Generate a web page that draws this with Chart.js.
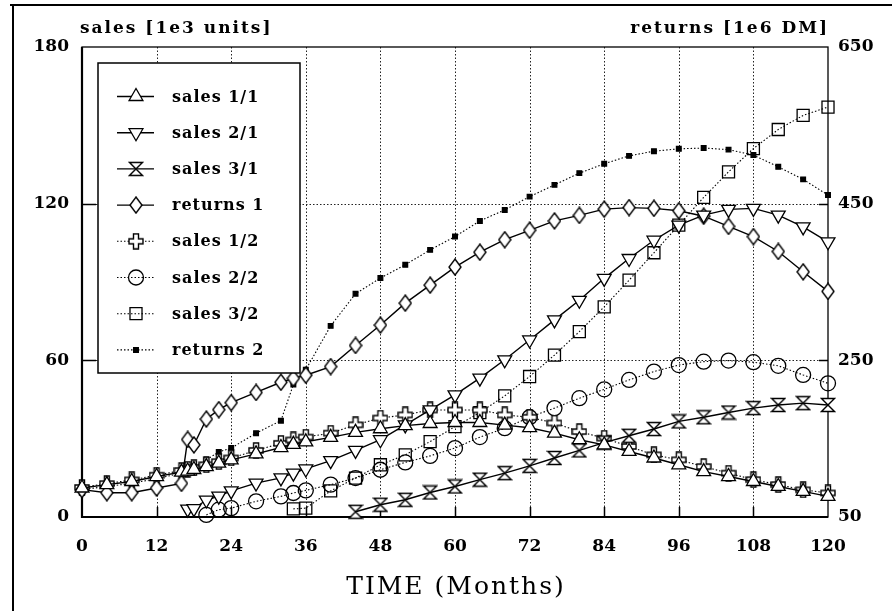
<!DOCTYPE html>
<html>
<head>
<meta charset="utf-8">
<title>sales / returns over time</title>
<script src="https://cdn.jsdelivr.net/npm/chart.js@4.4.1/dist/chart.umd.min.js"></script>
<style>
  html, body { margin: 0; padding: 0; background: #fff; }
  #wrap { width: 892px; height: 611px; }
</style>
</head>
<body>
<div id="wrap"><canvas id="chart" width="892" height="611"></canvas></div>
<script>
// months at which the series were sampled (null = product not yet on the market)
const months = [0, 4, 8, 12, 16, 17, 18, 20, 22, 24, 28, 32, 34, 36, 40, 44, 48, 52, 56, 60,
  64, 68, 72, 76, 80, 84, 88, 92, 96, 100, 104, 108, 112, 116, 120];

// sales [1e3 units], left axis
const sales11 = [11.1, 12.4, 13.6, 15.5, 17.2, 17.6, 18.2, 19.3, 20.6, 21.9, 24.2, 26.6, 27.8, 28.8, 30.5, 32.4, 33.8, 35.0, 35.8, 36.2,
  36.2, 35.2, 34.2, 32.1, 29.6, 27.6, 25.1, 22.6, 20.0, 17.4, 15.5, 13.6, 11.7, 9.8, 7.9];
const sales21 = [null, null, null, null, null, 3.0, 3.2, 6.5, 8.0, 10.0, 13.0, 15.0, 16.8, 18.4, 21.6, 25.5, 29.6, 35.3, 41.0, 46.8,
  53.2, 60.2, 67.8, 75.5, 83.0, 91.4, 99.0, 106.0, 111.8, 115.6, 117.8, 118.2, 115.6, 111.1, 105.4];
const sales31 = [null, null, null, null, null, null, null, null, null, null, null, null, null, null, null, 2.0, 4.7, 6.6, 9.4, 11.7,
  14.3, 16.8, 19.6, 22.6, 25.5, 28.5, 31.1, 33.7, 36.6, 38.2, 40.0, 41.7, 42.9, 43.6, 42.9];
const sales12 = [11.3, 12.8, 14.2, 16.0, 17.8, 18.3, 18.8, 20.0, 21.2, 22.6, 25.5, 28.2, 29.5, 30.6, 32.1, 35.3, 37.9, 39.1, 41.0, 41.0,
  41.0, 39.1, 38.2, 36.0, 32.7, 30.2, 27.0, 23.8, 21.9, 19.3, 16.8, 14.3, 12.4, 10.4, 9.2];
const sales22 = [null, null, null, null, null, null, null, 0.8, 2.8, 3.4, 6.0, 7.9, 9.2, 10.2, 12.4, 14.9, 18.1, 20.9, 23.4, 26.4,
  30.6, 34.0, 38.2, 41.7, 45.5, 48.9, 52.5, 55.7, 58.2, 59.5, 59.9, 59.3, 57.9, 54.4, 51.2];
const sales32 = [null, null, null, null, null, null, null, null, null, null, null, null, 3.1, 3.4, 10.0, 14.9, 20.0, 23.8, 28.9, 34.6,
  40.0, 46.4, 53.8, 62.0, 71.0, 80.5, 90.7, 101.2, 111.8, 122.4, 132.2, 141.1, 148.4, 153.8, 157.0];

// returns [1e6 DM], right axis
const returns1 = [85, 81, 81, 87, 93, 149, 142, 175, 187, 196, 209, 222, 227, 231, 242, 269, 295, 323, 346, 369,
  388, 404, 416, 428, 435, 443, 445, 444, 441, 434, 421, 408, 389, 363, 338];
const returns2 = [85, 89, 93, 99, 106, 110, 114, 123, 133, 138, 157, 173, 219, 238, 294, 335, 355, 372, 391, 408,
  428, 442, 459, 474, 489, 501, 511, 517, 520, 521, 519, 512, 497, 481, 461];

// axis ticks
const monthTicks = [0, 12, 24, 36, 48, 60, 72, 84, 96, 108, 120];
const salesTicks = [0, 60, 120, 180];
const returnTicks = [50, 250, 450, 650];

const SERIF = '"DejaVu Serif", "Liberation Serif", serif';
const DOTS = [1.5, 2];

// hollow marker glyphs that Chart.js has no built-in style for
function glyph(w, h, path) {
  const c = document.createElement('canvas');
  c.width = w; c.height = h;
  const g = c.getContext('2d');
  g.fillStyle = '#fff';
  g.strokeStyle = '#000';
  g.lineWidth = 1.4;
  g.beginPath();
  path(g);
  g.closePath();
  g.fill();
  g.stroke();
  return c;
}
const hourglass = glyph(16, 16, g => { g.moveTo(1.5, 1.5); g.lineTo(14.5, 1.5); g.lineTo(1.5, 14.5); g.lineTo(14.5, 14.5); });
const diamond = glyph(14, 18, g => { g.moveTo(7, 1); g.lineTo(13, 9); g.lineTo(7, 17); g.lineTo(1, 9); });
const plus = glyph(16, 17, g => {
  const a = 5.5, b = 10.5, c = 6, d = 11;
  g.moveTo(a, 1); g.lineTo(b, 1); g.lineTo(b, c); g.lineTo(15, c); g.lineTo(15, d); g.lineTo(b, d);
  g.lineTo(b, 16); g.lineTo(a, 16); g.lineTo(a, d); g.lineTo(1, d); g.lineTo(1, c); g.lineTo(a, c);
});

// fill: 'white' hides the line behind the marker, 'none' lets the dotted line show through
const series = [
  { label: 'sales 1/1', data: sales11, axis: 'y', style: 'triangle', rotation: 0, radius: 8, dotted: false, fill: '#fff' },
  { label: 'sales 2/1', data: sales21, axis: 'y', style: 'triangle', rotation: 180, radius: 8, dotted: false, fill: '#fff' },
  { label: 'sales 3/1', data: sales31, axis: 'y', style: hourglass, rotation: 0, radius: 8, dotted: false, fill: '#fff' },
  { label: 'returns 1', data: returns1, axis: 'y2', style: diamond, rotation: 0, radius: 8, dotted: false, fill: '#fff' },
  { label: 'sales 1/2', data: sales12, axis: 'y', style: plus, rotation: 0, radius: 8, dotted: true, fill: '#fff' },
  { label: 'sales 2/2', data: sales22, axis: 'y', style: 'circle', rotation: 0, radius: 7.5, dotted: true, fill: 'rgba(0,0,0,0)' },
  { label: 'sales 3/2', data: sales32, axis: 'y', style: 'rect', rotation: 0, radius: 8.5, dotted: true, fill: 'rgba(0,0,0,0)' },
  { label: 'returns 2', data: returns2, axis: 'y2', style: 'rect', rotation: 0, radius: 3.3, dotted: true, fill: '#000' },
];

const datasets = series.map(s => ({
  label: s.label,
  data: months.map((m, i) => ({ x: m, y: s.data[i] })),
  yAxisID: s.axis,
  borderColor: '#000',
  borderWidth: s.dotted ? 1.1 : 1.4,
  borderDash: s.dotted ? DOTS : [],
  tension: 0,
  fill: false,
  clip: false,
  pointStyle: s.style,
  rotation: s.rotation,
  pointRadius: s.radius,
  pointBorderColor: '#000',
  pointBackgroundColor: s.fill,
  pointBorderWidth: 1.3,
}));

const tickFont = { family: SERIF, size: 17, weight: 'bold' };

// frame, dotted grid, axis box, in-plot legend and axis titles
const decor = {
  id: 'decor',
  beforeDatasetsDraw(chart) {
    const { ctx, chartArea: a, scales: { x, y, y2 } } = chart;
    ctx.save();
    ctx.strokeStyle = '#000';
    ctx.lineWidth = 2;
    ctx.beginPath();
    ctx.moveTo(13, 5); ctx.lineTo(13, 611);
    ctx.moveTo(10, 5); ctx.lineTo(892, 5);
    ctx.stroke();

    ctx.strokeStyle = '#222';
    ctx.lineWidth = 1;
    ctx.setLineDash(DOTS);
    ctx.beginPath();
    monthTicks.slice(1, -1).forEach(v => {
      const px = Math.round(x.getPixelForValue(v)) + 0.5;
      ctx.moveTo(px, a.top); ctx.lineTo(px, a.bottom);
    });
    salesTicks.slice(1, -1).forEach(v => {
      const py = Math.round(y.getPixelForValue(v)) + 0.5;
      ctx.moveTo(a.left, py); ctx.lineTo(a.right, py);
    });
    ctx.stroke();
    ctx.setLineDash([]);

    // short inward tick marks
    ctx.strokeStyle = '#000';
    ctx.lineWidth = 1.5;
    ctx.beginPath();
    monthTicks.slice(1, -1).forEach(v => {
      const px = Math.round(x.getPixelForValue(v)) + 0.5;
      ctx.moveTo(px, a.bottom); ctx.lineTo(px, a.bottom - 10);
    });
    salesTicks.slice(1, -1).forEach(v => {
      const py = Math.round(y.getPixelForValue(v)) + 0.5;
      ctx.moveTo(a.left, py); ctx.lineTo(a.left + 14, py);
    });
    returnTicks.slice(1, -1).forEach(v => {
      const py = Math.round(y2.getPixelForValue(v)) + 0.5;
      ctx.moveTo(a.right, py); ctx.lineTo(a.right - 9, py);
    });
    ctx.stroke();

    // plot box
    ctx.lineWidth = 1.3;
    ctx.strokeRect(a.left, a.top, a.right - a.left, a.bottom - a.top);
    ctx.lineWidth = 2.2;
    ctx.beginPath();
    ctx.moveTo(a.left, a.top); ctx.lineTo(a.left, a.bottom); ctx.lineTo(a.right, a.bottom);
    ctx.stroke();
    ctx.restore();
  },
  afterDatasetsDraw(chart) {
    const { ctx, chartArea: a } = chart;
    ctx.save();

    // legend box
    const box = { l: 98, t: 63, r: 300, b: 373 };
    ctx.fillStyle = '#fff';
    ctx.fillRect(box.l, box.t, box.r - box.l, box.b - box.t);
    ctx.strokeStyle = '#000';
    ctx.lineWidth = 1.5;
    ctx.strokeRect(box.l, box.t, box.r - box.l, box.b - box.t);

    ctx.font = 'bold 16px ' + SERIF;
    ctx.letterSpacing = '1px';
    ctx.textBaseline = 'middle';
    ctx.textAlign = 'left';
    series.forEach((s, i) => {
      const cy = 96.5 + i * 36.2;
      const ds = datasets[i];
      ctx.strokeStyle = '#000';
      ctx.lineWidth = ds.borderWidth;
      ctx.setLineDash(ds.borderDash);
      ctx.beginPath();
      ctx.moveTo(117, cy); ctx.lineTo(154, cy);
      ctx.stroke();
      ctx.setLineDash([]);
      ctx.fillStyle = ds.pointBackgroundColor;
      ctx.lineWidth = ds.pointBorderWidth;
      Chart.helpers.drawPoint(ctx, {
        pointStyle: s.style, rotation: s.rotation, radius: s.radius, borderWidth: ds.pointBorderWidth,
      }, 136, cy);
      ctx.fillStyle = '#000';
      ctx.fillText(s.label, 172, cy + 1);
    });

    // axis unit titles
    ctx.font = 'bold 17px ' + SERIF;
    ctx.letterSpacing = '2px';
    ctx.textBaseline = 'alphabetic';
    ctx.textAlign = 'left';
    ctx.fillText('sales [1e3 units]', 80, 33);
    ctx.textAlign = 'right';
    ctx.fillText('returns [1e6 DM]', a.right + 1, 33);

    ctx.font = '25px ' + SERIF;
    ctx.letterSpacing = '2px';
    ctx.textAlign = 'center';
    ctx.textBaseline = 'middle';
    ctx.fillText('TIME (Months)', (a.left + a.right) / 2 + 1, 587);
    ctx.restore();
  },
};

new Chart(document.getElementById('chart'), {
  type: 'line',
  data: { datasets },
  options: {
    responsive: false,
    animation: false,
    events: [],
    layout: { padding: { top: 47, left: 0, right: 0, bottom: 0 } },
    plugins: { legend: { display: false }, tooltip: { enabled: false } },
    scales: {
      x: {
        type: 'linear', min: 0, max: 120,
        afterBuildTicks: s => { s.ticks = monthTicks.map(v => ({ value: v })); },
        afterFit: s => { s.height = 94; },
        grid: { display: false, drawTicks: false },
        border: { display: false },
        ticks: { padding: 19, font: tickFont, color: '#000', maxRotation: 0, autoSkip: false },
      },
      y: {
        type: 'linear', position: 'left', min: 0, max: 180,
        afterBuildTicks: s => { s.ticks = salesTicks.map(v => ({ value: v })); },
        afterFit: s => { s.width = 82; },
        grid: { display: false, drawTicks: false },
        border: { display: false },
        ticks: { padding: 13, font: tickFont, color: '#000' },
      },
      y2: {
        type: 'linear', position: 'right', min: 50, max: 650,
        afterBuildTicks: s => { s.ticks = returnTicks.map(v => ({ value: v })); },
        afterFit: s => { s.width = 64; },
        grid: { display: false, drawTicks: false },
        border: { display: false },
        ticks: { padding: 10, font: tickFont, color: '#000' },
      },
    },
  },
  plugins: [decor],
});
</script>
</body>
</html>
